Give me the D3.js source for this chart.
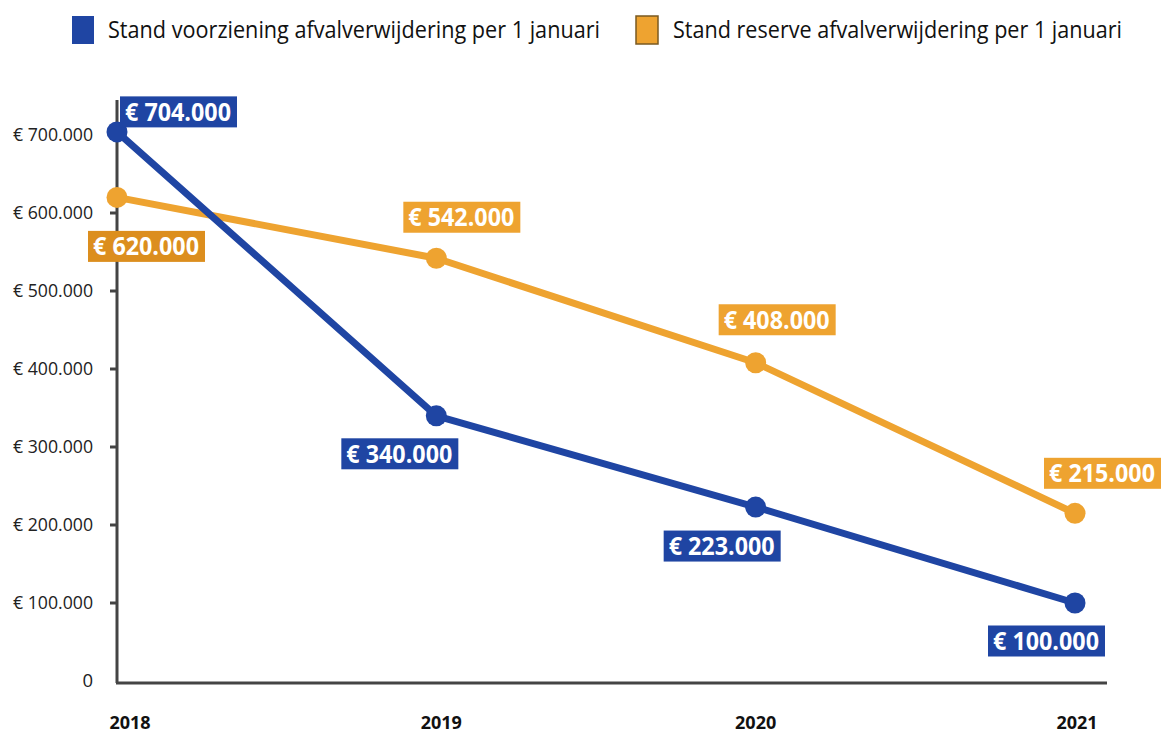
<!DOCTYPE html>
<html>
<head>
<meta charset="utf-8">
<script src="https://cdn.jsdelivr.net/npm/d3@7"></script>
<style>
  body { margin: 0; background: #fff; }
  text { font-family: "Open Sans", sans-serif; }
</style>
</head>
<body>
<div id="chart"></div>
<script>
// chart data
const years = ["2018", "2019", "2020", "2021"]
const voorziening = [704000, 340000, 223000, 100000]
const reserve = [620000, 542000, 408000, 215000]
const yTicks = [0, 100000, 200000, 300000, 400000, 500000, 600000, 700000]
const seriesNames = ["Stand voorziening afvalverwijdering per 1 januari", "Stand reserve afvalverwijdering per 1 januari"]

// label box offsets from each point (left edge, vertical centre)
const blueOffsets = [[3, -20], [-95, 38], [-92, 39], [-87, 38]]
const orangeOffsets = [[-29, 49], [-33, -41], [-37, -43], [-31, -40]]

const width = 1163
const height = 735
const blue = "#1f45a3"
const orange = "#eea330"
const orangeDark = "#dc8e1e"

const svg = d3.select("#chart")
  .append("svg")
  .attr("width", width)
  .attr("height", height)

const x = d3.scalePoint()
  .domain(years)
  .range([117, 1075])

const y = d3.scaleLinear()
  .domain([0, 700000])
  .range([681, 135])

const fmt = v => v === 0 ? "0" : "€ " + d3.format(",")(v).replace(/,/g, ".")

// axes
svg.append("line")
  .attr("x1", 117).attr("x2", 117)
  .attr("y1", 100).attr("y2", 683)
  .attr("stroke", "#444").attr("stroke-width", 3)
svg.append("line")
  .attr("x1", 116).attr("x2", 1107)
  .attr("y1", 683).attr("y2", 683)
  .attr("stroke", "#444").attr("stroke-width", 3)

const tickG = svg.append("g")
tickG.selectAll("line")
  .data(yTicks.filter(d => d > 0))
  .join("line")
    .attr("x1", 110).attr("x2", 117)
    .attr("y1", d => y(d)).attr("y2", d => y(d))
    .attr("stroke", "#444").attr("stroke-width", 3)
tickG.selectAll("text")
  .data(yTicks)
  .join("text")
    .attr("x", 93)
    .attr("y", d => y(d))
    .attr("dy", "0.35em")
    .attr("text-anchor", "end")
    .attr("font-size", 18.5)
    .attr("fill", "#222")
    .text(fmt)
    .each(function(d) {
      if (d > 0) d3.select(this).attr("textLength", 80).attr("lengthAdjust", "spacingAndGlyphs")
    })

svg.append("g").selectAll("text")
  .data(years)
  .join("text")
    .attr("x", (d, i) => x(d) + (i === 0 ? 13 : i === 1 ? 5 : i === 3 ? 2 : 0))
    .attr("y", 729)
    .attr("text-anchor", "middle")
    .attr("font-size", 18)
    .attr("font-weight", "bold")
    .attr("fill", "#111")
    .text(d => d)

// lines
function drawSeries(values, color) {
  const pts = values.map((v, i) => [x(years[i]), y(v)])
  svg.append("path")
    .attr("d", d3.line()(pts))
    .attr("fill", "none")
    .attr("stroke", color)
    .attr("stroke-width", 7)
    .attr("stroke-linejoin", "round")
  svg.append("g").selectAll("circle")
    .data(pts)
    .join("circle")
      .attr("cx", d => d[0])
      .attr("cy", d => d[1])
      .attr("r", 10.5)
      .attr("fill", color)
}
drawSeries(reserve, orange)
drawSeries(voorziening, blue)

// value labels
function drawLabels(values, offsets, colorFn) {
  const g = svg.append("g")
  values.forEach((v, i) => {
    const px = x(years[i]) + offsets[i][0]
    const py = y(v) + offsets[i][1]
    g.append("rect")
      .attr("x", px).attr("y", py - 15.5)
      .attr("width", 117).attr("height", 31)
      .attr("fill", colorFn(i))
    g.append("text")
      .attr("x", px + 5).attr("y", py)
      .attr("dy", "0.36em")
      .attr("font-size", 25)
      .attr("font-weight", "bold")
      .attr("fill", "#fff")
      .attr("textLength", 106)
      .attr("lengthAdjust", "spacingAndGlyphs")
      .text(fmt(v))
  })
}
drawLabels(reserve, orangeOffsets, i => i === 0 ? orangeDark : orange)
drawLabels(voorziening, blueOffsets, () => blue)

// legend
const legend = [
  { name: seriesNames[0], color: blue, rx: 72, tx: 108, tw: 492, stroke: "none" },
  { name: seriesNames[1], color: orange, rx: 636, tx: 673, tw: 449, stroke: "#7a5a20" }
]
const lg = svg.append("g")
legend.forEach(l => {
  lg.append("rect")
    .attr("x", l.rx).attr("y", 16)
    .attr("width", 22).attr("height", 28)
    .attr("fill", l.color)
    .attr("stroke", l.stroke).attr("stroke-width", 1.5)
  lg.append("text")
    .attr("x", l.tx).attr("y", 30)
    .attr("dy", "0.35em")
    .attr("font-size", 23)
    .attr("fill", "#111")
    .attr("textLength", l.tw)
    .attr("lengthAdjust", "spacingAndGlyphs")
    .text(l.name)
})
</script>
</body>
</html>
